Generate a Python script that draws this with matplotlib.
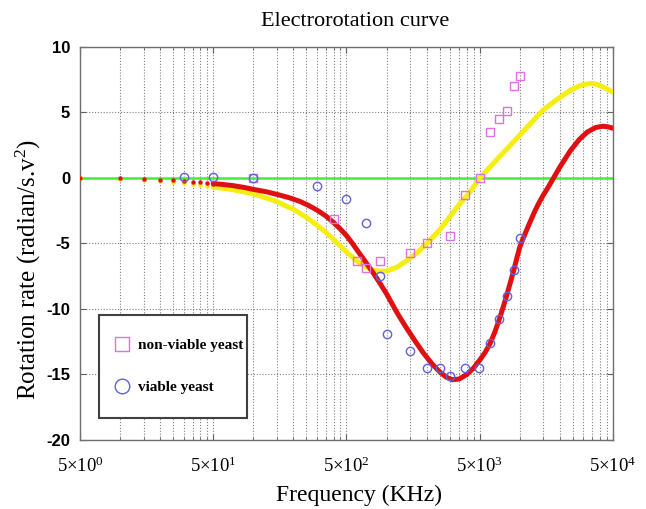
import matplotlib
matplotlib.use("Agg")
import matplotlib.pyplot as plt
from matplotlib.patches import Rectangle
from matplotlib.ticker import FixedLocator, FixedFormatter, NullFormatter

# ---------------- data ----------------
# low-frequency sampled model points (drawn as separate dots)
low_f = [5, 10, 15, 20, 25, 30, 35, 40, 45, 50]
red_low_v = [0.0, -0.03, -0.07, -0.12, -0.17, -0.22, -0.27, -0.33, -0.38, -0.43]
yellow_low_v = [0.0, -0.05, -0.12, -0.2, -0.28, -0.36, -0.44, -0.52, -0.6, -0.68]

# model curve (viable yeast fit, red)
red_f = [50, 60, 70, 85, 100, 125, 150, 185, 225, 260, 300, 350, 400, 450,
         500, 550, 600, 700, 800, 900, 1000, 1200, 1400, 1650, 1900, 2200,
         2500, 2800, 3100, 3500, 4000, 4500, 5000, 5500, 6000, 6500, 7000,
         7500, 8000, 8500, 9000, 9500, 10000, 11000, 12000, 13000, 14000,
         15000, 16000, 17900, 20000, 24000, 28000, 32000, 37000, 42000,
         46000, 50000]
red_v = [-0.43, -0.5, -0.58, -0.72, -0.87, -1.05, -1.25, -1.5, -1.8, -2.1,
         -2.45, -2.9, -3.4, -3.9, -4.4, -4.95, -5.5, -6.45, -7.3, -8.1,
         -8.85, -10.3, -11.4, -12.5, -13.4, -14.2, -14.8, -15.2, -15.4,
         -15.35, -15.0, -14.5, -13.9, -13.3, -12.6, -11.75, -10.8, -9.85,
         -8.9, -7.95, -7.05, -6.1, -5.25, -4.2, -3.3, -2.5, -1.85, -1.3,
         -0.85, 0.0, 0.85, 2.1, 2.95, 3.5, 3.85, 3.95, 3.9, 3.8]

# model curve (non-viable yeast fit, yellow)
yellow_f = [50, 70, 100, 150, 200, 250, 300, 350, 400, 450, 500, 600, 700,
            800, 900, 1000, 1200, 1400, 1700, 2000, 2500, 3000, 3400, 4200,
            5000, 6000, 7500, 10000, 12500, 15000, 19000, 24000, 29000, 34000,
            38000, 42000, 46000, 50000]
yellow_v = [-0.68, -0.9, -1.2, -1.8, -2.4, -3.0, -3.6, -4.15, -4.7, -5.2,
            -5.65, -6.35, -6.8, -7.05, -7.12, -7.1, -6.8, -6.35, -5.7, -5.0,
            -3.97, -2.93, -2.2, -1.1, 0.0, 0.86, 1.92, 3.28, 4.34, 5.2, 6.0,
            6.7, 7.1, 7.22, 7.15, 6.95, 6.75, 6.55]

# zero reference line
zero_f = [5, 50000]
zero_v = [0, 0]

# measured points
viable_f = [30, 50, 100, 300, 500, 700, 900, 1000, 1500, 2000, 2500, 3000,
            3900, 4900, 6000, 7000, 8000, 9000, 10000]
viable_v = [0.1, 0.1, 0.0, -0.6, -1.6, -3.4, -7.5, -11.9, -13.2, -14.5,
            -14.5, -15.1, -14.5, -14.5, -12.6, -10.8, -9.0, -7.0, -4.6]

nonviable_f = [100, 400, 600, 700, 900, 1500, 2000, 3000, 3900, 5000, 6000,
               7000, 8000, 9000, 10000]
nonviable_v = [0.0, -3.1, -6.3, -6.9, -6.3, -5.7, -5.0, -4.4, -1.3, 0.0, 3.5,
               4.5, 5.1, 7.0, 7.8]

xtick_vals = [5, 50, 500, 5000, 50000]
xtick_labels = ['5×10$^{0}$', '5×10$^{1}$', '5×10$^{2}$', '5×10$^{3}$', '5×10$^{4}$']
ytick_vals = [-20, -15, -10, -5, 0, 5, 10]

# ---------------- figure ----------------
plt.rcParams['axes.unicode_minus'] = False
plt.rcParams['mathtext.fontset'] = 'custom'
plt.rcParams['mathtext.rm'] = 'Liberation Serif'
plt.rcParams['mathtext.it'] = 'Liberation Serif:italic'
plt.rcParams['mathtext.bf'] = 'Liberation Serif:bold'

fig = plt.figure(figsize=(6.46, 5.09), dpi=100)
ax = fig.add_axes([0.1238, 0.1356, 0.8251, 0.7721])
ax.set_xscale('log')
ax.set_xlim(5, 50000)
ax.set_ylim(-20, 10)

# grid
minor = [5 * k * 10 ** n for n in range(4) for k in range(2, 10)]
ax.xaxis.set_major_locator(FixedLocator(xtick_vals))
ax.xaxis.set_major_formatter(FixedFormatter(xtick_labels))
ax.xaxis.set_minor_locator(FixedLocator(minor))
ax.xaxis.set_minor_formatter(NullFormatter())
ax.yaxis.set_major_locator(FixedLocator(ytick_vals))
ax.grid(True, which='both', axis='x', color='#808080', linestyle=(0, (1, 1.6)), linewidth=0.8)
ax.grid(True, which='major', axis='y', color='#808080', linestyle=(0, (1, 1.6)), linewidth=0.8)
ax.set_axisbelow(True)

ax.plot(zero_f, zero_v, color='#44ee33', linewidth=1.8, zorder=2)
ax.plot(low_f, yellow_low_v, linestyle='none', marker='o', markersize=3.4,
        color='#f5ee10', markeredgewidth=0, zorder=3)
ax.plot(yellow_f, yellow_v, color='#f5ee10', linewidth=3.6, zorder=3,
        solid_capstyle='round', solid_joinstyle='round')
ax.plot(low_f, red_low_v, linestyle='none', marker='o', markersize=3.2,
        color='#e01010', markeredgewidth=0, zorder=4)
ax.plot(red_f, red_v, color='#e01010', linewidth=3.6, zorder=4,
        solid_capstyle='round', solid_joinstyle='round')

ax.plot(nonviable_f, nonviable_v, linestyle='none', marker='s', markersize=6,
        markerfacecolor='none', markeredgecolor='#e070e0', markeredgewidth=1.0,
        zorder=5, label='non-viable yeast')
ax.plot(viable_f, viable_v, linestyle='none', marker='o', markersize=6,
        markerfacecolor='none', markeredgecolor='#6060e0', markeredgewidth=1.0,
        zorder=5, label='viable yeast')

# ticks
ax.tick_params(axis='both', which='both', direction='in', top=True, right=True,
               color='#606060')
ax.tick_params(axis='x', which='major', length=4, pad=12)
ax.tick_params(axis='x', which='minor', length=2.5)
ax.tick_params(axis='y', which='major', length=4, pad=7)
for lbl in ax.get_xticklabels():
    lbl.set_fontfamily('Liberation Serif')
    lbl.set_fontsize(13.5)
for lbl in ax.get_yticklabels():
    lbl.set_fontfamily('Liberation Sans')
    lbl.set_fontweight('bold')
    lbl.set_fontsize(12)
for sp in ax.spines.values():
    sp.set_color('#707070')
    sp.set_linewidth(1.0)

ax.set_title('Electrorotation curve', fontfamily='Liberation Serif', fontsize=16,
             pad=15, x=0.516)
ax.set_xlabel('Frequency (KHz)', fontfamily='Liberation Serif', fontsize=17)
ax.xaxis.set_label_coords(0.523, -0.115)
ax.set_ylabel('Rotation rate (radian/s.v$^2$)', fontfamily='Liberation Serif', fontsize=18)
ax.yaxis.set_label_coords(-0.069, 0.435)

# legend box (drawn as a rectangle) and entries
box = Rectangle((0.0356, 0.056), 0.2777, 0.262, transform=ax.transAxes,
                facecolor='white', edgecolor='#404040', linewidth=1.5, zorder=9)
ax.add_patch(box)
leg = ax.legend(loc='upper left', bbox_to_anchor=(0.068, 0.258), frameon=False,
                markerscale=1.75, handlelength=0.8, handletextpad=0.6,
                labelspacing=1.85, borderpad=0.0, borderaxespad=0.0,
                prop={'family': 'Liberation Serif', 'weight': 'bold', 'size': 11})
leg.set_zorder(10)

fig.savefig('out.png', dpi=100)
